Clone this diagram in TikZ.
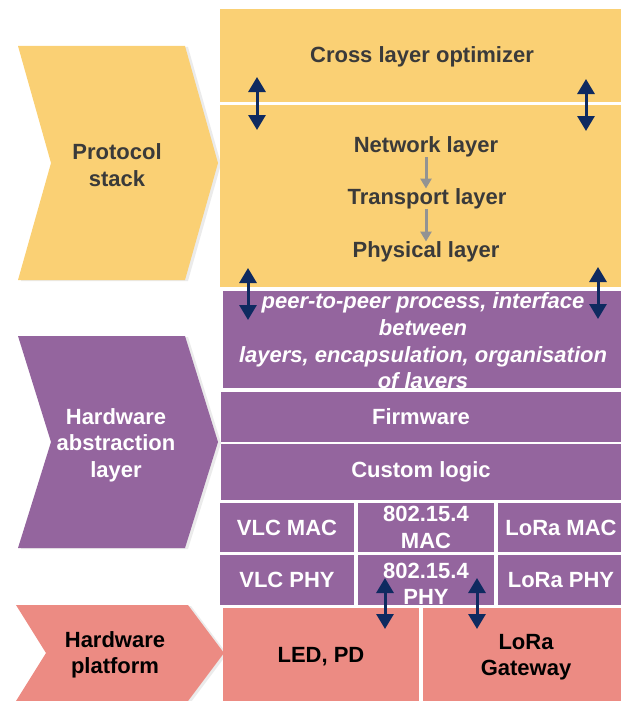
\documentclass[tikz,border=0pt]{standalone}
\usepackage{fontspec}
\setmainfont{Liberation Sans}
\usetikzlibrary{arrows.meta,fit}

\definecolor{stackyellow}{HTML}{FAD074}
\definecolor{halpurple}{HTML}{94659E}
\definecolor{hwpink}{HTML}{EC8B83}
\definecolor{arrownavy}{HTML}{0E2A60}
\definecolor{textgrey}{HTML}{3A3A3A}

\begin{document}
\begin{tikzpicture}[x=1pt,y=-1pt,
  lbl/.style={font=\bfseries\fontsize{22}{26.5}\selectfont, align=center, inner sep=0pt},
  ybox/.style={fill=stackyellow, inner sep=0pt},
  pbox/.style={fill=halpurple, inner sep=0pt},
  rbox/.style={fill=hwpink, inner sep=0pt},
  ytxt/.style={lbl, text=textgrey},
  ptxt/.style={lbl, text=white},
  rtxt/.style={lbl, text=black},
  chevshadow/.style={fill=black!8, shift={(3pt,-1pt)}},
  updown/.style={{Triangle[width=17pt,length=15pt]}-{Triangle[width=17pt,length=15pt]},
    line width=3pt, arrownavy},
  downgrey/.style={-{Triangle[width=11pt,length=10pt]}, line width=3pt, gray!85}]

  \useasboundingbox (0,0) rectangle (621,701);

  \newcommand\ColL{220}
  \newcommand\ColR{621}

  % chevrons on the left
  \fill[chevshadow] (18,46) -- (185,46) -- (218,163) -- (185,280) -- (18,280) -- (51,163) -- cycle;
  \fill[stackyellow] (18,46) -- (185,46) -- (218,163) -- (185,280) -- (18,280) -- (51,163) -- cycle;
  \node[ytxt] (protocol) at (117,165) {Protocol\\stack};

  \fill[chevshadow] (18,336) -- (185,336) -- (218,442) -- (185,548) -- (18,548) -- (51,442) -- cycle;
  \fill[halpurple] (18,336) -- (185,336) -- (218,442) -- (185,548) -- (18,548) -- (51,442) -- cycle;
  \node[ptxt] (hal) at (116,445) {Hardware\\abstraction\\layer};

  \fill[chevshadow] (16,605) -- (188,605) -- (224,653) -- (188,701) -- (16,701) -- (46,653) -- cycle;
  \fill[hwpink] (16,605) -- (188,605) -- (224,653) -- (188,701) -- (16,701) -- (46,653) -- cycle;
  \node[rtxt] (platform) at (115,655) {Hardware\\platform};

  % protocol stack
  \node[ybox, fit={(\ColL,9) (\ColR,102)}] (cross) {};
  \node[ytxt] (crosstxt) at (422,57) {Cross layer optimizer};
  \node[ybox, fit={(\ColL,105) (\ColR,287)}] (stack) {};
  \node[ytxt] (net) at (426,147) {Network layer};
  \node[ytxt] (trans) at (427,199) {Transport layer};
  \node[ytxt] (phys) at (426,252) {Physical layer};
  \draw[downgrey] (net.south) -- (net.south |- trans.north);
  \draw[downgrey] (trans.south -| net.south) -- (net.south |- phys.north);

  % hardware abstraction
  \node[pbox, fit={(223,291) (\ColR,388)}] (peer) {};
  \begin{scope}
    \clip (peer.north west) rectangle (peer.south east);
    \node[ptxt, font=\bfseries\itshape\fontsize{22}{26.7}\selectfont] (peertxt) at (423,343)
      {peer-to-peer process, interface\\between\\layers, encapsulation, organisation\\of layers};
  \end{scope}
  \node[pbox, fit={(221,392) (\ColR,442)}] (firmware) {};
  \node[ptxt] (firmwaretxt) at (firmware.center) {Firmware};
  \node[pbox, fit={(221,444) (\ColR,500)}] (custom) {};
  \node[ptxt] (customtxt) at (custom.center) {Custom logic};

  \node[pbox, fit={(\ColL,503) (354,552)}] (vlcmac) {};
  \node[ptxt] (vlcmactxt) at (vlcmac.center) {VLC MAC};
  \node[pbox, fit={(358,503) (494,552)}] (mac154) {};
  \node[ptxt] (mac154txt) at (mac154.center) {802.15.4\\MAC};
  \node[pbox, fit={(498,503) (\ColR,552)}] (loramac) {};
  \node[ptxt] (loramactxt) at (561,528) {LoRa MAC};
  \node[pbox, fit={(\ColL,555) (354,605)}] (vlcphy) {};
  \node[ptxt] (vlcphytxt) at (vlcphy.center) {VLC PHY};
  \node[pbox, fit={(358,555) (494,605)}] (phy154) {};
  \node[ptxt] (phy154txt) at (426,584) {802.15.4\\PHY};
  \node[pbox, fit={(498,555) (\ColR,605)}] (loraphy) {};
  \node[ptxt] (loraphytxt) at (561,580) {LoRa PHY};

  % hardware platform
  \node[rbox, fit={(223,608) (419,701)}] (led) {};
  \node[rtxt] (ledtxt) at (321,657) {LED, PD};
  \node[rbox, fit={(423,608) (\ColR,701)}] (gateway) {};
  \node[rtxt] (gatewaytxt) at (526,657) {LoRa\\Gateway};

  % interfaces between layers
  \coordinate (x1a) at (257,77);  \coordinate (x1b) at (257,130);
  \coordinate (x2a) at (586,79);  \coordinate (x2b) at (586,131);
  \coordinate (p1a) at (248,268); \coordinate (p1b) at (248,320);
  \coordinate (p2a) at (598,267); \coordinate (p2b) at (598,319);
  \coordinate (h1a) at (385,578); \coordinate (h1b) at (385,629);
  \coordinate (h2a) at (477,578); \coordinate (h2b) at (477,629);
  \draw[updown] (x1a) -- (x1b);
  \draw[updown] (x2a) -- (x2b);
  \draw[updown] (p1a) -- (p1b);
  \draw[updown] (p2a) -- (p2b);
  \draw[updown] (h1a) -- (h1b);
  \draw[updown] (h2a) -- (h2b);

\end{tikzpicture}
\end{document}
